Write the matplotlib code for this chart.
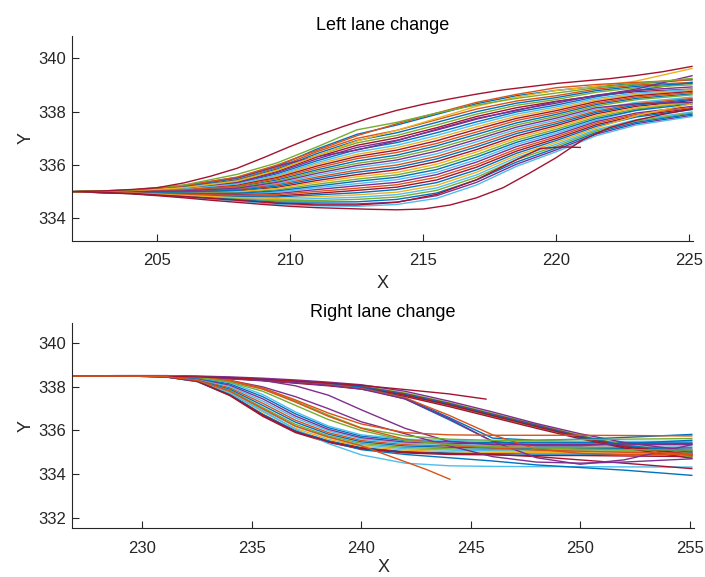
import matplotlib
matplotlib.use("Agg")
import matplotlib.pyplot as plt

plt.rcParams['font.family'] = ['Liberation Sans', 'DejaVu Sans']

# MATLAB default line colours
mcol = ['#0072BD', '#D95319', '#EDB120', '#7E2F8E', '#77AC30', '#4DBEEE', '#A2142F']

# ---------------- Left lane change ----------------
left_x = [201.8, 204, 206, 208, 209.5, 211, 212.5, 214, 215.5, 217, 218.5, 220, 221.5, 223, 225.1]

left_band = [
    [335.0, 335.05, 335.18, 335.45, 335.9, 336.5, 337.0, 337.3, 337.7, 338.1, 338.4, 338.6, 338.85, 339.0, 339.1],
    [335.0, 335.0, 335.02, 335.1, 335.3, 335.62, 335.9, 336.1, 336.42, 336.87, 337.34, 337.69, 338.09, 338.35, 338.55],
    [335.0, 334.95, 334.85, 334.76, 334.7, 334.74, 334.79, 334.89, 335.14, 335.63, 336.28, 336.78, 337.33, 337.7, 337.99],
    [335.0, 335.02, 335.09, 335.26, 335.58, 336.03, 336.4, 336.65, 337.01, 337.43, 337.83, 338.11, 338.44, 338.65, 338.8],
    [335.0, 334.97, 334.93, 334.92, 334.98, 335.15, 335.3, 335.45, 335.73, 336.2, 336.77, 337.2, 337.68, 338.05, 338.45],
    [335.0, 335.04, 335.14, 335.37, 335.76, 336.3, 336.74, 337.02, 337.4, 337.82, 338.15, 338.39, 338.6, 338.75, 338.85],
    [335.0, 334.99, 334.98, 335.02, 335.16, 335.42, 335.64, 335.82, 336.13, 336.58, 337.09, 337.48, 337.92, 338.2, 338.42],
    [335.0, 334.93, 334.81, 334.68, 334.57, 334.54, 334.54, 334.61, 334.85, 335.35, 336.03, 336.57, 337.16, 337.55, 337.86],
    [335.0, 335.01, 335.05, 335.18, 335.44, 335.82, 336.15, 336.37, 336.72, 337.15, 337.58, 337.9, 338.27, 338.5, 338.67],
    [335.0, 334.96, 334.89, 334.84, 334.84, 334.94, 335.05, 335.17, 335.44, 335.92, 336.52, 336.99, 337.51, 337.85, 338.12],
    [335.0, 335.03, 335.12, 335.32, 335.67, 336.16, 336.58, 336.84, 337.21, 337.62, 337.99, 338.25, 338.56, 338.8, 339.1],
    [335.0, 334.98, 334.95, 334.97, 335.07, 335.28, 335.47, 335.63, 335.93, 336.39, 336.93, 337.34, 337.8, 338.1, 338.33],
    [335.0, 335.05, 335.17, 335.42, 335.85, 336.43, 336.92, 337.21, 337.6, 338.0, 338.32, 338.53, 338.79, 338.95, 339.06],
    [335.0, 334.99, 335.0, 335.08, 335.26, 335.55, 335.81, 336.0, 336.32, 336.77, 337.26, 337.62, 338.03, 338.3, 338.5],
    [335.0, 334.94, 334.84, 334.73, 334.66, 334.67, 334.71, 334.8, 335.05, 335.54, 336.2, 336.71, 337.28, 337.65, 337.95],
    [335.0, 335.02, 335.08, 335.24, 335.53, 335.96, 336.32, 336.56, 336.91, 337.34, 337.75, 338.04, 338.38, 338.6, 338.76],
    [335.0, 334.97, 334.91, 334.89, 334.93, 335.08, 335.22, 335.35, 335.64, 336.11, 336.69, 337.13, 337.63, 337.95, 338.2],
    [335.0, 335.03, 335.13, 335.34, 335.72, 336.23, 336.66, 336.93, 337.31, 337.72, 338.07, 338.32, 338.62, 338.8, 338.93],
    [335.0, 334.98, 334.96, 335.0, 335.12, 335.35, 335.56, 335.72, 336.03, 336.49, 337.01, 337.41, 337.86, 338.15, 338.37],
    [335.0, 334.93, 334.8, 334.65, 334.52, 334.47, 334.45, 334.52, 334.75, 335.25, 335.95, 336.5, 337.1, 337.5, 337.82],
    [335.0, 335.01, 335.04, 335.16, 335.39, 335.76, 336.06, 336.28, 336.62, 337.05, 337.5, 337.83, 338.21, 338.45, 338.63],
    [335.0, 334.95, 334.88, 334.81, 334.8, 334.88, 334.96, 335.08, 335.34, 335.82, 336.44, 336.92, 337.45, 337.8, 338.08],
    [335.0, 335.03, 335.1, 335.29, 335.62, 336.09, 336.49, 336.74, 337.11, 337.53, 337.91, 338.18, 338.5, 338.7, 338.84],
    [335.0, 334.97, 334.94, 334.94, 335.03, 335.21, 335.39, 335.54, 335.83, 336.3, 336.85, 337.27, 337.74, 338.05, 338.29],
    [335.0, 335.04, 335.15, 335.4, 335.81, 336.36, 336.83, 337.11, 337.5, 337.91, 338.24, 338.46, 338.73, 338.9, 339.01],
    [335.0, 334.99, 334.99, 335.05, 335.21, 335.49, 335.73, 335.91, 336.23, 336.68, 337.18, 337.55, 337.98, 338.25, 338.46],
    [335.0, 334.94, 334.83, 334.7, 334.61, 334.61, 334.62, 334.71, 334.95, 335.44, 336.11, 336.64, 337.22, 337.6, 337.91],
    [335.0, 335.01, 335.07, 335.21, 335.49, 335.89, 336.24, 336.47, 336.81, 337.24, 337.67, 337.97, 338.32, 338.55, 338.72],
    [335.0, 334.96, 334.9, 334.86, 334.89, 335.01, 335.13, 335.26, 335.54, 336.01, 336.6, 337.06, 337.57, 337.9, 338.16],
    [335.0, 335.0, 335.03, 335.13, 335.35, 335.69, 335.98, 336.19, 336.52, 336.96, 337.42, 337.76, 338.15, 338.3, 338.35],
    [335.0, 334.95, 334.86, 334.78, 334.75, 334.81, 334.88, 334.98, 335.24, 335.73, 336.36, 336.85, 337.39, 337.85, 338.3],
]
# colour index (into mcol) of each band trajectory
left_cidx = [1, 5, 5, 2, 5, 6, 6, 3, 0, 6, 0, 4, 0, 1, 4, 6, 3, 3, 2, 5, 4, 0, 5, 0, 4, 0, 0, 1, 1, 3, 2]

# outlying trajectories read separately
left_edge_x = [201.8, 203, 204, 205, 206, 207, 208, 209, 210, 211, 212, 213, 214, 215, 216, 217,
               218, 219, 220, 221, 222, 223, 224, 225.1]
left_top = [335.0, 335.03, 335.08, 335.15, 335.33, 335.58, 335.88, 336.28, 336.7, 337.1, 337.45, 337.77,
            338.05, 338.28, 338.48, 338.66, 338.82, 338.94, 339.06, 339.15, 339.24, 339.36, 339.5, 339.7]
left_bottom = [335.0, 334.96, 334.92, 334.85, 334.77, 334.68, 334.6, 334.52, 334.45, 334.4, 334.37, 334.34,
               334.32, 334.35, 334.5, 334.77, 335.15, 335.7, 336.28, 336.95, 337.4, 337.68, 337.9, 338.1]
left_green = [335.0, 335.06, 335.25, 335.65, 336.08, 336.68, 337.32, 337.6, 337.95, 338.25, 338.5, 338.7, 338.9, 339.05, 339.25]
left_orange = [335.0, 335.05, 335.22, 335.55, 336.0, 336.55, 337.1, 337.55, 337.95, 338.35, 338.65, 338.9, 339.02, 339.1, 339.2]
left_yellow = [335.0, 335.04, 335.15, 335.4, 335.8, 336.35, 336.9, 337.3, 337.75, 338.2, 338.55, 338.8, 338.95, 339.15, 339.62]
left_purple = [335.0, 335.02, 335.24, 335.53, 335.96, 336.32, 336.56, 336.91, 337.34, 337.75, 338.04, 338.38, 338.6, 338.85, 339.35]
left_blue = [335.0, 335.06, 335.2, 335.5, 335.95, 336.6, 337.15, 337.5, 337.9, 338.3, 338.6, 338.8, 338.95, 339.05, 339.2]
left_short_x = [201.8, 204, 206, 208, 209.5, 211, 212.5, 214, 215.5, 217, 218.5, 219.4, 220.2, 220.9]
left_short_y = [335.0, 334.94, 334.82, 334.68, 334.57, 334.5, 334.5, 334.6, 334.9, 335.45, 336.2, 336.62, 336.68, 336.66]

# ---------------- Right lane change ----------------
right_x = [226.8, 229, 231, 232.5, 234, 235.5, 237, 238.5, 240, 242, 244, 246, 248, 250, 252, 255.1]

right_curves = [
    [338.5, 338.5, 338.47, 338.25, 337.6, 336.65, 335.9, 335.45, 335.15, 334.97, 334.9, 334.88, 334.85, 334.85, 334.83, 334.8],
    [338.5, 338.5, 338.47, 338.27, 337.66, 336.75, 335.99, 335.53, 335.22, 335.03, 334.97, 334.94, 334.92, 334.92, 334.9, 334.87],
    [338.5, 338.5, 338.48, 338.28, 337.72, 336.85, 336.09, 335.6, 335.28, 335.1, 335.03, 335.0, 334.98, 334.98, 334.96, 334.94],
    [338.5, 338.5, 338.48, 338.3, 337.78, 336.95, 336.18, 335.68, 335.35, 335.16, 335.1, 335.07, 335.05, 335.05, 335.03, 335.01],
    [338.5, 338.5, 338.48, 338.32, 337.84, 337.05, 336.28, 335.75, 335.41, 335.22, 335.16, 335.13, 335.11, 335.11, 335.1, 335.08],
    [338.5, 338.5, 338.49, 338.34, 337.9, 337.15, 336.38, 335.83, 335.48, 335.29, 335.23, 335.19, 335.18, 335.18, 335.17, 335.15],
    [338.5, 338.5, 338.49, 338.35, 337.96, 337.25, 336.47, 335.9, 335.54, 335.35, 335.29, 335.25, 335.24, 335.24, 335.23, 335.22],
    [338.5, 338.5, 338.49, 338.37, 338.02, 337.35, 336.57, 335.98, 335.61, 335.41, 335.36, 335.31, 335.31, 335.31, 335.3, 335.29],
    [338.5, 338.5, 338.5, 338.39, 338.08, 337.45, 336.66, 336.05, 335.67, 335.47, 335.42, 335.38, 335.37, 335.37, 335.37, 335.36],
    [338.5, 338.5, 338.5, 338.4, 338.14, 337.55, 336.76, 336.13, 335.74, 335.54, 335.49, 335.44, 335.44, 335.44, 335.44, 335.43],
    [338.5, 338.5, 338.5, 338.42, 338.2, 337.65, 336.85, 336.2, 335.8, 335.6, 335.55, 335.5, 335.5, 335.5, 335.5, 335.5],
    [338.5, 338.5, 338.47, 338.24, 337.7, 336.9, 336.05, 335.4, 334.88, 334.5, 334.38, 334.35, 334.34, 334.34, 334.33, 334.32],
    [338.5, 338.5, 338.47, 338.26, 337.64, 336.72, 335.96, 335.5, 335.12, 334.9, 334.75, 334.6, 334.42, 334.3, 334.18, 333.94],
    [338.5, 338.5, 338.47, 338.26, 337.62, 336.7, 335.94, 335.48, 335.18, 335.0, 334.94, 334.9, 334.8, 334.65, 334.5, 334.25],
    [338.5, 338.5, 338.5, 338.48, 338.44, 338.37, 338.28, 338.18, 338.05, 337.72, 337.28, 336.78, 336.28, 335.78, 335.35, 334.95],
    [338.5, 338.5, 338.49, 338.46, 338.42, 338.34, 338.25, 338.15, 338.01, 337.68, 337.24, 336.74, 336.24, 335.74, 335.3, 334.88],
    [338.5, 338.5, 338.48, 338.45, 338.4, 338.32, 338.22, 338.12, 337.98, 337.65, 337.2, 336.7, 336.2, 335.7, 335.27, 334.82],
    [338.5, 338.5, 338.48, 338.44, 338.38, 338.3, 338.19, 338.08, 337.94, 337.6, 337.15, 336.65, 336.15, 335.66, 335.23, 334.77],
    [338.5, 338.5, 338.47, 338.43, 338.37, 338.28, 338.17, 338.05, 337.9, 337.56, 337.1, 336.6, 336.1, 335.62, 335.2, 334.72],
    [338.5, 338.52, 338.52, 338.5, 338.46, 338.4, 338.32, 338.22, 338.1, 337.8, 337.35, 336.85, 336.32, 335.85, 335.45, 335.05],
    [338.5, 338.5, 338.49, 338.45, 338.41, 338.33, 338.24, 338.14, 338.0, 337.66, 337.22, 336.72, 336.22, 335.72, 335.32, 335.0],
    [338.5, 338.5, 338.48, 338.45, 338.39, 338.31, 338.21, 338.1, 337.96, 337.62, 337.18, 336.68, 336.18, 335.69, 335.25, 334.9],
    [338.5, 338.5, 338.49, 338.46, 338.41, 338.33, 338.23, 338.12, 337.97, 337.5, 336.6, 335.65, 335.55, 335.6, 335.68, 335.82],
    [338.5, 338.5, 338.49, 338.45, 338.4, 338.32, 338.22, 338.11, 337.95, 337.45, 336.5, 335.5, 335.3, 335.3, 335.4, 335.55],
    [338.5, 338.5, 338.48, 338.45, 338.4, 338.31, 338.21, 338.1, 337.93, 337.5, 336.7, 335.8, 335.15, 334.95, 334.9, 334.9],
    [338.5, 338.5, 338.48, 338.45, 338.39, 338.3, 338.2, 338.08, 337.9, 337.45, 336.55, 335.5, 334.75, 334.45, 334.65, 335.35],
    [338.5, 338.5, 338.5, 338.48, 338.42, 338.3, 338.05, 337.62, 336.95, 336.1, 335.5, 335.35, 335.35, 335.36, 335.38, 335.4],
    [338.5, 338.5, 338.49, 338.44, 338.3, 338.0, 337.55, 337.0, 336.4, 335.85, 335.3, 334.8, 334.55, 334.5, 334.55, 334.7],
    [338.5, 338.5, 338.5, 338.45, 338.25, 337.9, 337.35, 336.7, 336.12, 335.75, 335.6, 335.55, 335.55, 335.58, 335.6, 335.63],
    [338.5, 338.5, 338.5, 338.46, 338.3, 337.95, 337.4, 336.8, 336.3, 335.9, 335.8, 335.78, 335.78, 335.78, 335.77, 335.75],
    [338.5, 338.5, 338.5, 338.45, 338.28, 337.9, 337.3, 336.65, 336.1, 335.6, 335.35, 335.2, 335.1, 335.05, 335.0, 334.95],
    [338.5, 338.5, 338.5, 338.45, 338.22, 337.8, 337.15, 336.5, 336.0, 335.55, 335.35, 335.25, 335.2, 335.15, 335.12, 335.1],
]
# colour index (into mcol) of each right-lane trajectory
right_cidx = [6, 0, 2, 5, 4, 0, 1, 5, 3, 0, 5, 5, 0, 6,
              4, 6, 1, 4, 6, 3, 0, 6, 0, 0, 1, 3, 3, 3, 4, 1, 1, 4]

right_short1_x = [226.8, 229, 231, 232.5, 234, 235.5, 237, 238.5, 240, 242, 244, 245.7]
right_short1_y = [338.5, 338.5, 338.49, 338.46, 338.42, 338.35, 338.27, 338.18, 338.07, 337.88, 337.68, 337.44]
right_short2_x = [226.8, 229, 231, 232.5, 234, 235.5, 237, 238.5, 240, 241.5, 243, 244.05]
right_short2_y = [338.5, 338.5, 338.48, 338.3, 337.8, 337.0, 336.2, 335.7, 335.3, 334.75, 334.2, 333.76]

LW = 1.0
fig = plt.figure(figsize=(7.05, 5.77), dpi=100)
ax1 = fig.add_axes([72.3 / 705, 1 - 241 / 577, 621 / 705, 205 / 577])
ax2 = fig.add_axes([72.3 / 705, 1 - 528.3 / 577, 621.7 / 705, 205 / 577])

for ys, ci in zip(left_band, left_cidx):
    ax1.plot(left_x, ys, color=mcol[ci], lw=LW)
ax1.plot(left_edge_x, left_bottom, color=mcol[6], lw=LW)
ax1.plot(left_short_x, left_short_y, color=mcol[6], lw=LW)
ax1.plot(left_x, left_blue, color=mcol[0], lw=LW)
ax1.plot(left_x, left_purple, color=mcol[3], lw=LW)
ax1.plot(left_x, left_yellow, color=mcol[2], lw=LW)
ax1.plot(left_x, left_orange, color=mcol[1], lw=LW)
ax1.plot(left_x, left_green, color=mcol[4], lw=LW)
ax1.plot(left_edge_x, left_top, color=mcol[6], lw=LW)

for ys, ci in zip(right_curves, right_cidx):
    ax2.plot(right_x, ys, color=mcol[ci], lw=LW)
ax2.plot(right_short1_x, right_short1_y, color=mcol[6], lw=LW)
ax2.plot(right_short2_x, right_short2_y, color=mcol[1], lw=LW)


def style(ax, title, xlim, ylim, xticks, yticks, title_pad, xlabel_pad):
    ax.set_xlim(*xlim)
    ax.set_ylim(*ylim)
    ax.set_xticks(xticks)
    ax.set_yticks(yticks)
    for s in ['top', 'right']:
        ax.spines[s].set_visible(False)
    for s in ['left', 'bottom']:
        ax.spines[s].set_color('#262626')
        ax.spines[s].set_linewidth(0.8)
    ax.tick_params(direction='in', length=5, width=0.8, colors='#262626', labelsize=12)
    ax.tick_params(axis='x', pad=8.8)
    ax.tick_params(axis='y', pad=4.7)
    ax.set_title(title, fontsize=13, pad=title_pad, color='black')
    ax.set_xlabel('X', fontsize=13, color='#262626', labelpad=xlabel_pad)
    ax.set_ylabel('Y', fontsize=13, color='#262626', labelpad=2.5)


style(ax1, 'Left lane change', (201.8, 225.15), (333.15, 340.84),
      [205, 210, 215, 220, 225], [334, 336, 338, 340], 4.2, 5)
style(ax2, 'Right lane change', (226.8, 255.2), (331.51, 340.92),
      [230, 235, 240, 245, 250, 255], [332, 334, 336, 338, 340], 4.5, 2.5)

fig.savefig('out.png', dpi=100)
